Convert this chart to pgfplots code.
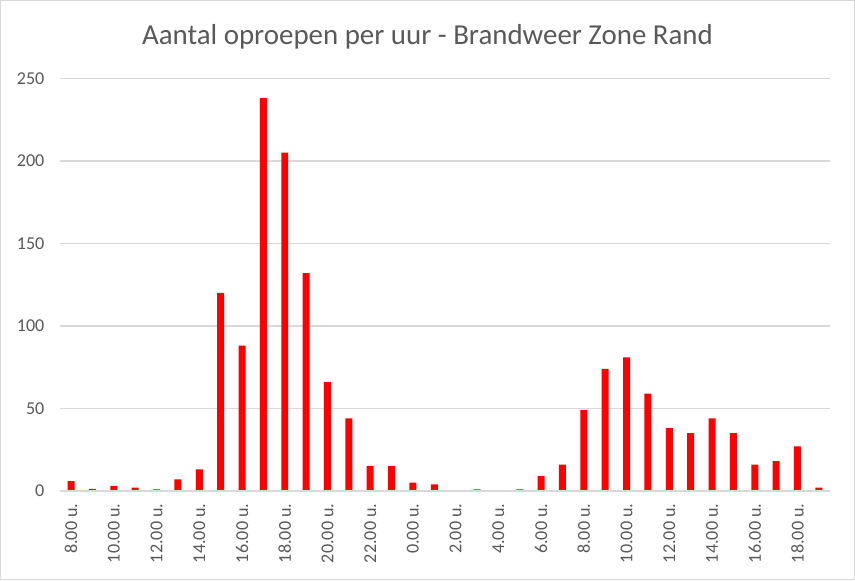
\documentclass[border=0pt]{standalone}
\usepackage{fontspec}
\setmainfont{Carlito}
\usepackage{pgfplots}
\pgfplotsset{compat=1.18}
\definecolor{txt}{RGB}{89,89,89}
\definecolor{gridc}{RGB}{217,217,217}
\definecolor{barred}{RGB}{255,0,0}

\pgfplotstableread{
x y
0 6
1 1.3
2 3
3 2
4 1
5 7
6 13
7 120
8 88
9 238
10 205
11 132
12 66
13 44
14 15
15 15
16 5
17 4
18 0
19 1
20 0
21 1
22 9
23 16
24 49
25 74
26 81
27 59
28 38
29 35
30 44
31 35
32 16
33 18
34 27
35 2
}\calls

\begin{document}
\begin{tikzpicture}
\draw[gridc, line width=0.75pt] (-45pt,-66.75pt) rectangle (596.25pt,368.25pt);
\useasboundingbox (-45pt,-66.75pt) rectangle (596.25pt,368.25pt);
\begin{axis}[
    at={(0,0)}, anchor=south west,
    scale only axis,
    width=577.5pt, height=309.75pt,
    xmin=-0.5, xmax=35.5,
    ymin=0, ymax=250,
    ytick={0,50,...,250},
    xtick={0,2,...,34},
    xticklabels={8.00 u.,10.00 u.,12.00 u.,14.00 u.,16.00 u.,18.00 u.,20.00 u.,22.00 u.,0.00 u.,2.00 u.,4.00 u.,6.00 u.,8.00 u.,10.00 u.,12.00 u.,14.00 u.,16.00 u.,18.00 u.},
    axis line style={draw=none},
    major tick length=0pt,
    ymajorgrids,
    grid style={gridc, line width=0.9pt},
    tick label style={font=\fontsize{13.6}{16}\selectfont, text=txt},
    /pgf/number format/assume math mode=true,
    yticklabel style={xshift=-8.5pt},
    xticklabel style={rotate=90, anchor=east},
    xticklabel shift=6pt,
    clip=false,
]
\addplot[ybar, bar width=5.25pt, fill=barred, draw=none, bar shift=0pt] table[x=x, y=y] {\calls};
\draw[gridc, line width=0.9pt] (rel axis cs:0,0) -- (rel axis cs:1,0);
\end{axis}
\node[anchor=base, text=txt, font=\fontsize{21.7}{26}\selectfont] at (275.6pt,335.25pt) {Aantal oproepen per uur - Brandweer Zone Rand};
\end{tikzpicture}
\end{document}
